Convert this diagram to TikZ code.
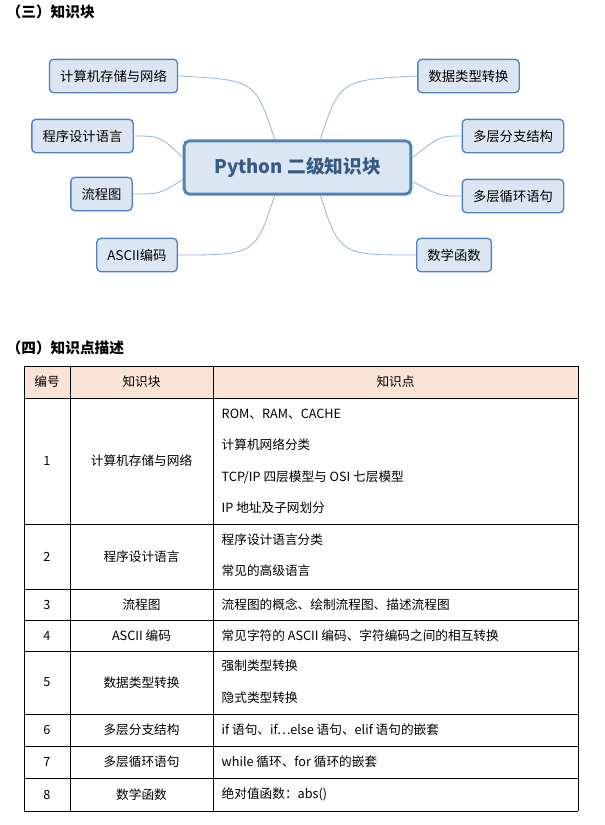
\documentclass[tikz,border=0pt]{standalone}
\usepackage{fontspec}
\setmainfont{Liberation Serif}
\newfontfamily\cjk{Noto Sans CJK SC}
\usetikzlibrary{calc}
\definecolor{mapline}{HTML}{4F81BD}
\definecolor{mapfill}{HTML}{DCE6F2}
\definecolor{headfill}{HTML}{FBE4D5}
\tikzset{
  leaf/.style={draw=mapline,line width=1pt,rounded corners=3pt,fill=mapfill,
    font=\cjk\fontsize{10}{12}\selectfont,minimum height=25pt,inner xsep=8pt},
  hub/.style={draw=mapline,line width=2.2pt,rounded corners=4pt,fill=mapfill,
    font=\cjk\bfseries\fontsize{14}{16}\selectfont,text=mapline!70!black,
    minimum width=170pt,minimum height=40pt},
  branch/.style={draw=mapline!60,line width=0.6pt},
  cell/.style={font=\cjk\fontsize{9.5}{11}\selectfont},
  head/.style={font=\cjk\bfseries\fontsize{11}{13}\selectfont,anchor=west}
}
\begin{document}
\begin{tikzpicture}[x=0.75pt,y=-0.75pt]
\useasboundingbox (0,0) rectangle (605,825);
% headings
\node[head] (h3) at (2,12) {（三）知识块};
\node[head] (h4) at (2,348) {（四）知识点描述};
% mind map
\node[hub] (hub) at (297.5,167.5) {Python 二级知识块};
\node[leaf] (a1) at (113.5,76) {计算机存储与网络};
\node[leaf] (a2) at (82.5,136) {程序设计语言};
\node[leaf] (a3) at (101.5,194) {流程图};
\node[leaf] (a4) at (137,255) {ASCII编码};
\node[leaf] (b1) at (468.5,76) {数据类型转换};
\node[leaf] (b2) at (513,136) {多层分支结构};
\node[leaf] (b3) at (513,196) {多层循环语句};
\node[leaf] (b4) at (454,255) {数学函数};
\draw[branch] ($(hub.north west)+(92,0)$) .. controls (255,80) .. (a1.east);
\draw[branch] ($(hub.west)+(0,-10)$) .. controls (160,136) .. (a2.east);
\draw[branch] ($(hub.west)+(0,12)$) .. controls (160,194) .. (a3.east);
\draw[branch] ($(hub.south west)+(92,0)$) .. controls (255,255) .. (a4.east);
\draw[branch] ($(hub.north east)+(-92,0)$) .. controls (340,80) .. (b1.west);
\draw[branch] ($(hub.east)+(0,-10)$) .. controls (440,136) .. (b2.west);
\draw[branch] ($(hub.east)+(0,14)$) .. controls (440,196) .. (b3.west);
\draw[branch] ($(hub.south east)+(-92,0)$) .. controls (340,255) .. (b4.west);
% table
\fill[headfill] (24,366) rectangle (578,398);
\foreach \y in {366,398,524,589,620,651,714,746,778,811}
  \draw[line width=0.6pt] (24,\y) -- (578,\y);
\foreach \x in {24,70,213,578}
  \draw[line width=0.6pt] (\x,366) -- (\x,811);
\node[cell] (t0a) at (47,382) {编号};
\node[cell] (t0b) at (141.5,382) {知识块};
\node[cell] (t0c) at (395.5,382) {知识点};
\foreach \n/\y/\k in {1/461/计算机存储与网络,2/556.5/程序设计语言,3/604.5/流程图,
  4/635.5/ASCII 编码,5/682.5/数据类型转换,6/730/多层分支结构,7/762/多层循环语句,8/794.5/数学函数}{
  \node[cell] (no\n) at (47,\y) {\n};
  \node[cell] (kb\n) at (141.5,\y) {\k};
}
\foreach \y/\t in {414/{ROM、RAM、CACHE},445/计算机网络分类,477/{TCP/IP 四层模型与 OSI 七层模型},
  508/IP 地址及子网划分,540/程序设计语言分类,571/常见的高级语言,
  604.5/流程图的概念、绘制流程图、描述流程图,635.5/常见字符的 ASCII 编码、字符编码之间的相互转换,
  666/强制类型转换,698/隐式类型转换,730/if 语句、if…else 语句、elif 语句的嵌套,
  762/while 循环、for 循环的嵌套,794.5/绝对值函数：abs()}
  \node[cell,anchor=west] at (217,\y) {\t};
\end{tikzpicture}
\end{document}
